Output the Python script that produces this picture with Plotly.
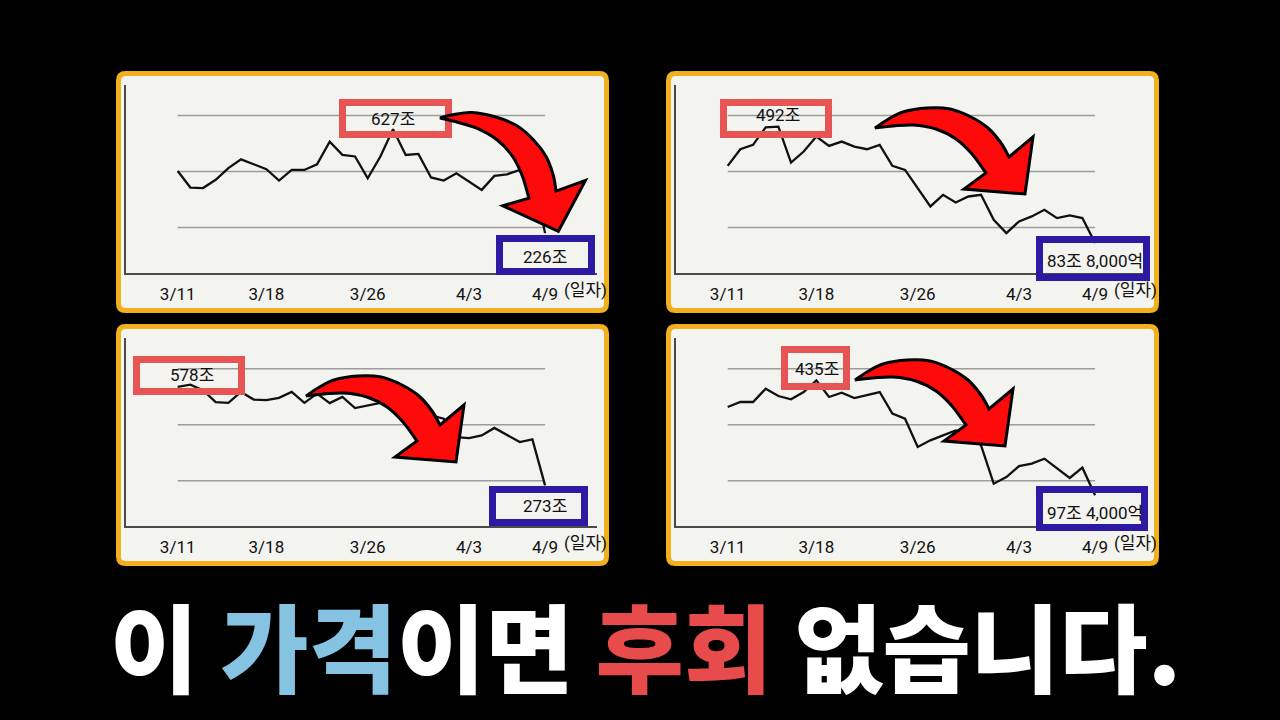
import math
import plotly.graph_objects as go

# ---------------- data ----------------
dates = ["3/11", "3/12", "3/13", "3/14", "3/15", "3/16", "3/17", "3/18", "3/19", "3/20",
         "3/21", "3/22", "3/23", "3/24", "3/25", "3/26", "3/27", "3/28", "3/29", "3/30",
         "3/31", "4/1", "4/2", "4/3", "4/4", "4/5", "4/6", "4/7", "4/8", "4/9"]
tick_dates = ["3/11", "3/18", "3/26", "4/3", "4/9"]
x_unit_label = "(일자)"

values_1 = [466, 402, 400, 432, 477, 511, 492, 473, 429, 470, 470, 492, 579, 528, 522,
            438, 522, 627, 528, 532, 441, 429, 457, 425, 393, 447, 453, 470, 457, 226]
values_2 = [354.4, 412.7, 427.9, 489.7, 492, 366.1, 404.6, 457, 424.4, 439.5, 422, 412.7,
            427.9, 354.4, 340.4, 276.3, 212.2, 253, 226.2, 247.1, 253, 165.5, 118.9, 159.7,
            177.2, 200.5, 171.4, 180.7, 171.4, 83.8]
values_3 = [571, 578, 561, 525, 523, 556, 533, 531, 538, 556, 523, 551, 522, 541, 507,
            515, 523, 525, 510, 500, 485, 475, 419, 416, 424, 447, 426, 404, 412, 273]
values_4 = [356.7, 371.4, 371.4, 410.5, 389.0, 379.2, 400.7, 435, 386.1, 398.8, 383.1, 391.0,
            400.7, 337.1, 322.5, 239.3, 258.9, 273.5, 288.2, 278.4, 244.2, 131.6, 151.2, 183.5,
            190.4, 205.0, 175.7, 148.3, 178.6, 97.4]

grid_1 = [248, 464, 680]
grid_2 = [138.7, 334.6, 530.5]
grid_3 = [287.1, 456.8, 626.5]
grid_4 = [140.4, 304.8, 469.3]

peak_labels = ["627조", "492조", "578조", "435조"]
end_labels = ["226조", "83조 8,000억", "273조", "97조 4,000억"]

title_parts = [("이 ", "#ffffff"), ("가격", "#86c2e2"), ("이면 ", "#ffffff"),
               ("후회", "#e84b4b"), (" 없습니다.", "#ffffff")]

# ---------------- layout helpers ----------------
W, H = 1280, 720


def px(x):
    return x / W


def py(y):
    return 1 - y / H


series = [values_1, values_2, values_3, values_4]
grids = [grid_1, grid_2, grid_3, grid_4]
yranges = [[72, 798], [-21, 637.8], [149.8, 719.4], [7.4, 559.3]]
# panel offsets (px) relative to panel 1
offsets = [(0, 0), (550, 0), (0, 253), (550, 253)]

BG = "#f3f3ef"
GOLD = "#f2b01f"
RED_BOX = "#e65454"
BLUE_BOX = "#2c1aa3"
NARROW = "Roboto, Noto Sans CJK KR, sans-serif"
LABEL_SIZE = 17

fig = go.Figure()
shapes = []
annotations = []


def rounded_rect(x0, y0, x1, y1, r):
    pts = [
        f"M {px(x0 + r)} {py(y0)}",
        f"L {px(x1 - r)} {py(y0)}",
        f"Q {px(x1)} {py(y0)} {px(x1)} {py(y0 + r)}",
        f"L {px(x1)} {py(y1 - r)}",
        f"Q {px(x1)} {py(y1)} {px(x1 - r)} {py(y1)}",
        f"L {px(x0 + r)} {py(y1)}",
        f"Q {px(x0)} {py(y1)} {px(x0)} {py(y1 - r)}",
        f"L {px(x0)} {py(y0 + r)}",
        f"Q {px(x0)} {py(y0)} {px(x0 + r)} {py(y0)}",
        "Z",
    ]
    return " ".join(pts)


# arrow template (px, relative to tail, y downward)
arrow_outer = [(0, 0), (12, -8), (28, -16), (52, -20), (75, -19), (96, -11), (113, 0),
               (126, 15), (134, 29)]
arrow_head = [(158, 9), (150, 66), (89, 61)]
arrow_inner = [(111, 45), (97, 26), (81, 11), (61, 1), (38, -3), (18, -2), (0, 0)]


def arrow_path(tx, ty, ang, s):
    c, sn = math.cos(math.radians(ang)), math.sin(math.radians(ang))

    def tr(p):
        x, y = p
        X = tx + s * (x * c - y * sn)
        Y = ty + s * (x * sn + y * c)
        return (X, Y)

    def fmt(p):
        return f"{px(p[0]):.5f} {py(p[1]):.5f}"

    def smooth(points):
        out = []
        n = len(points)
        for i in range(n - 1):
            p0 = points[i - 1] if i > 0 else points[i]
            p1 = points[i]
            p2 = points[i + 1]
            p3 = points[i + 2] if i + 2 < n else points[i + 1]
            c1 = (p1[0] + (p2[0] - p0[0]) / 6, p1[1] + (p2[1] - p0[1]) / 6)
            c2 = (p2[0] - (p3[0] - p1[0]) / 6, p2[1] - (p3[1] - p1[1]) / 6)
            out.append(f"C {fmt(c1)} {fmt(c2)} {fmt(p2)}")
        return out

    outer = [tr(p) for p in arrow_outer]
    head = [tr(p) for p in arrow_head]
    inner = [tr(p) for p in arrow_inner]
    parts = [f"M {fmt(outer[0])}"] + smooth(outer)
    parts += [f"L {fmt(p)}" for p in head]
    parts += [f"L {fmt(inner[0])}"] + smooth(inner)
    parts.append("Z")
    return " ".join(parts)


# box geometry (outer px) for each panel
red_boxes = [(339, 99, 452, 138), (720, 99, 832, 138), (133, 356, 245, 395), (781, 346, 850, 390)]
blue_boxes = [(496, 235, 595, 275), (1036, 236, 1150, 281), (489, 486, 588, 526), (1036, 486, 1148, 531)]
red_text_pos = [(393, 119), (778, 115), (192, 375), (817, 369)]
blue_text_pos = [(545, 257), (1095, 261), (545, 506), (1095, 513)]
arrows = [(440, 118, 20, 1.0), (875, 128, 0, 1.0), (306, 396, 0, 1.0), (855, 380, 0, 1.0)]

layout_axes = {}
for i in range(4):
    ox, oy = offsets[i]
    n = i + 1
    xa = "x" if n == 1 else f"x{n}"
    ya = "y" if n == 1 else f"y{n}"

    # frame
    shapes.append(dict(type="path", xref="paper", yref="paper", layer="below",
                       path=rounded_rect(118.5 + ox, 73.5 + oy, 606.5 + ox, 310.5 + oy, 7),
                       fillcolor=BG, line=dict(color=GOLD, width=5)))

    fig.add_trace(go.Scatter(x=dates, y=series[i], mode="lines", xaxis=xa, yaxis=ya,
                             line=dict(color="#111111", width=2.3), showlegend=False,
                             hoverinfo="skip"))

    for g in grids[i]:
        shapes.append(dict(type="line", xref=xa, yref=ya, layer="below",
                           x0=dates[0], x1=dates[-1], y0=g, y1=g,
                           line=dict(color="#9c9c9c", width=1.5)))

    x0d, x1d = 126 + ox, 597 + ox
    y0d, y1d = 85 + oy, 273 + oy
    layout_axes[f"xaxis{'' if n == 1 else n}"] = dict(
        domain=[px(x0d), px(x1d)], anchor=ya, type="category",
        range=[-4.08, 33.1], showgrid=False, zeroline=False,
        showline=True, linecolor="#4a4a4a", linewidth=2,
        tickmode="array", tickvals=tick_dates, ticktext=tick_dates, ticks="",
        ticklabelstandoff=5,
        tickfont=dict(family=NARROW, size=LABEL_SIZE, color="#111111"))
    layout_axes[f"yaxis{'' if n == 1 else n}"] = dict(
        domain=[py(y1d), py(y0d)], anchor=xa, range=yranges[i],
        showgrid=False, zeroline=False, showticklabels=False,
        showline=True, linecolor="#4a4a4a", linewidth=2, ticks="")

    annotations.append(dict(text=x_unit_label, xref="paper", yref="paper",
                            x=px(585 + ox), y=py(290 + oy), showarrow=False,
                            xanchor="center", yanchor="middle",
                            font=dict(family=NARROW, size=LABEL_SIZE, color="#111111")))

    # label boxes
    for (bx0, by0, bx1, by1), col in ((red_boxes[i], RED_BOX), (blue_boxes[i], BLUE_BOX)):
        shapes.append(dict(type="rect", xref="paper", yref="paper", layer="above",
                           x0=px(bx0 + 3.5), x1=px(bx1 - 3.5), y0=py(by1 - 3.5), y1=py(by0 + 3.5),
                           line=dict(color=col, width=7), fillcolor="rgba(0,0,0,0)"))
    annotations.append(dict(text=peak_labels[i], xref="paper", yref="paper",
                            x=px(red_text_pos[i][0]), y=py(red_text_pos[i][1]),
                            showarrow=False, xanchor="center", yanchor="middle",
                            font=dict(family=NARROW, size=LABEL_SIZE, color="#111111")))
    annotations.append(dict(text=end_labels[i], xref="paper", yref="paper",
                            x=px(blue_text_pos[i][0]), y=py(blue_text_pos[i][1]),
                            showarrow=False, xanchor="center", yanchor="middle",
                            font=dict(family=NARROW, size=LABEL_SIZE, color="#111111")))

    tx, ty, ang, s = arrows[i]
    shapes.append(dict(type="path", xref="paper", yref="paper", layer="above",
                       path=arrow_path(tx, ty, ang, s), fillcolor="#ff0a0a",
                       line=dict(color="#000000", width=3)))

title_html = "".join(f'<span style="color:{c}">{t}</span>' for t, c in title_parts)
annotations.append(dict(text=title_html, xref="paper", yref="paper",
                        x=px(645), y=py(643), showarrow=False,
                        xanchor="center", yanchor="middle",
                        font=dict(family="Noto Sans CJK KR", size=96, color="#ffffff", weight=900)))

fig.update_layout(width=W, height=H, margin=dict(l=0, r=0, t=0, b=0),
                  paper_bgcolor="#000000", plot_bgcolor="rgba(0,0,0,0)",
                  shapes=shapes, annotations=annotations, showlegend=False,
                  **layout_axes)

fig.write_html("out.html", config={"displayModeBar": False, "staticPlot": True},
               post_script="document.body.style.margin='0';document.body.style.overflow='hidden';")
